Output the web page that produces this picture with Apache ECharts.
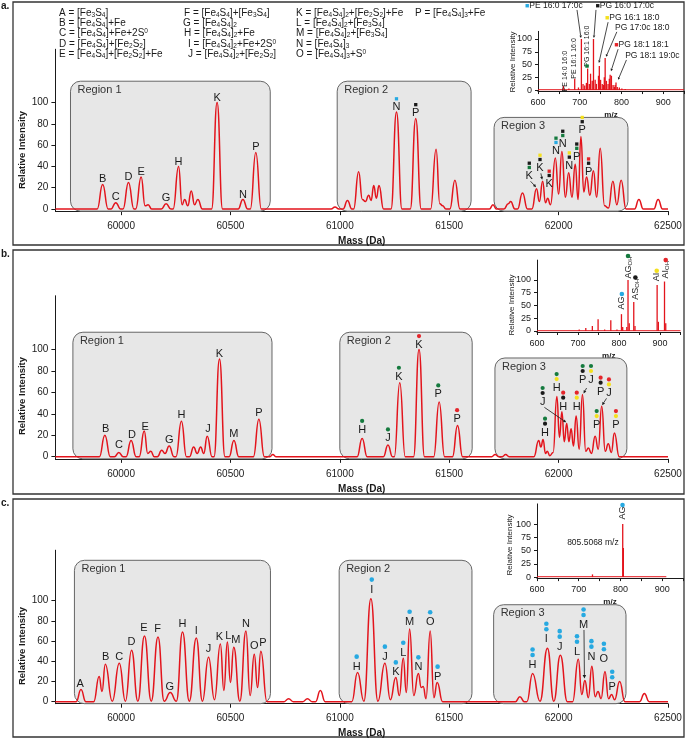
<!DOCTYPE html>
<html><head><meta charset="utf-8">
<script src="https://cdn.jsdelivr.net/npm/echarts@6/dist/echarts.min.js"></script>
<style>html,body{margin:0;padding:0;background:#fff}#chart{width:687px;height:739px}</style>
</head><body><div id="chart"></div><script>
// ---------------- data ----------------
const massTicks = [60000, 60500, 61000, 61500, 62000, 62500];
const intensityTicks = [0, 20, 40, 60, 80, 100];
const insetYTicks = [0, 25, 50, 75, 100];
const mzLabels = [600, 700, 800, 900];
const mzTicks = [600, 650, 700, 750, 800, 850, 900, 950];

const spectrumA = [[59700,0],
[59891,0],[59916,23],[59941,0],[59954,0],[59976,6],[59998,0],[60009,0],[60034,25],[60059,0],
[60067,0],[60092,30],[60110,3],[60124,4],[60140,0],[60184,0],[60206,5],[60228,0],
[60238,0],[60263,40],[60279,4],[60291,9],[60305,3],[60321,17],[60336,4],[60351,9],[60372,0],
[60414,0],[60439,100],[60464,0],[60535,0],[60557,9],[60579,0],[60591,0],[60616,53],[60641,0],
[60960,0],[60978,2],[60996,0],[61015,0],[61035,8],[61055,0],
[61063,0],[61086,35],[61103,9],[61117,7],[61132,13],[61143,8],[61155,22],[61167,10],[61179,22],[61200,0],
[61234,0],[61259,91],[61284,0],[61322,0],[61347,85],[61372,0],
[61415,0],[61440,56],[61457,5],[61470,3],[61485,0],[61503,0],[61526,27],[61549,0],
[61684,0],[61700,4],[61716,0],[61750,0],[61770,5],[61781,7],[61800,0],[61812,0],[61835,15],[61858,0],
[61878,0],[61899,19],[61912,7],[61927,26],[61940,6],[61950,10],[61963,4],[61985,48],[62000,14],[62015,54],
[62031,11],[62046,34],[62061,11],[62076,42],[62089,9],[62102,68],[62115,16],[62128,30],[62143,13],[62159,36],
[62174,11],[62190,57],[62210,3],[62228,1],[62248,26],[62266,4],[62286,27],[62308,0],
[62347,0],[62367,9],[62387,0],[62435,0],[62455,9],[62475,0],[62500,0]];

const spectrumB = [[59700,0],
[59901,0],[59926,20],[59951,0],[59970,0],[59990,4],[60010,0],[60023,0],[60046,15],[60069,0],
[60083,0],[60106,24],[60122,3],[60136,5],[60152,0],[60166,0],[60186,6],[60201,3],[60220,10],[60242,0],
[60251,0],[60276,33],[60299,0],[60313,0],[60332,9],[60348,3],[60364,9],[60378,3],[60394,19],[60416,0],
[60425,0],[60450,91],[60475,0],[60494,0],[60516,15],[60538,0],[60605,0],[60630,35],[60655,0],
[60680,0],[60694,2],[60708,0],
[61079,0],[61102,17],[61125,0],[61199,0],[61220,11],[61241,0],[61249,0],[61274,69],[61299,0],
[61337,0],[61362,100],[61387,0],[61429,0],[61454,51],[61479,0],[61515,0],[61538,29],[61561,0],
[61694,0],[61710,2],[61726,0],[61742,0],[61758,2],[61774,0],
[61887,0],[61909,15],[61919,9],[61929,16],[61940,3],[61948,5],[61960,1],[61975,4],[61992,56],[62004,18],
[62015,42],[62026,14],[62037,31],[62047,14],[62057,26],[62068,10],[62080,38],[62094,7],[62109,58],[62124,5],
[62136,8],[62150,3],[62167,19],[62181,7],[62197,47],[62213,5],[62227,12],[62241,4],[62255,22],[62277,0],
[62500,0]];

const spectrumC = [[59700,0],
[59795,0],[59817,12],[59839,0],[59875,0],[59900,25],[59913,10],[59928,37],[59960,0.5],[59992,38],[60020,0.5],
[60048,51],[60077,0.5],[60107,65],[60138,0.5],[60169,64],[60197,0.5],[60225,9],[60253,0.5],[60281,69],[60312,0.5],
[60344,63],[60372,0.5],[60400,44],[60427,2],[60454,57],[60470,11],[60486,59],[60500,19],[60515,54],[60543,0.5],
[60571,70],[60590,6],[60609,47],[60624,14],[60639,50],[60667,0],
[60745,0],[60766,3],[60787,0],[60831,0],[60852,3],[60873,0],[60889,0],[60911,11],[60933,0],
[61055,0],[61081,29],[61110,0.5],[61142,102],[61174,0.5],[61206,38],[61231,2],[61256,24],[61272,6],[61290,43],
[61304,9],[61319,72],[61338,6],[61359,28],[61372,14],[61381,15],[61394,3],[61413,70],[61430,4],[61445,19],[61470,0],
[61803,0],[61823,5],[61843,0],
[61855,0],[61881,28],[61915,0.5],[61949,53],[61978,0.5],[62008,46],[62040,0],[62064,0],[62090,42],[62106,7],
[62120,21],[62136,4],[62152,35],[62167,5],[62180,10],[62194,3],[62212,30],[62228,3],[62242,7],[62256,2],[62279,20],[62303,0],
[62370,0],[62392,8],[62414,0],[62500,0]];

// regions: [start mass, end mass, top intensity]
const regionNames = ['Region 1', 'Region 2', 'Region 3'];
const regionsA = [[59769,60682,120],[60988,61600,120],[61705,62317,86]];
const regionsB = [[59780,60690,116],[61000,61605,116],[61709,62312,92]];
const regionsC = [[59787,60683,140],[60997,61604,140],[61703,62308,96]];

// peak labels: [mass, intensity, text, marker colours top->bottom]
const labelsA = [
[59916,28,'B',''],[59976,11,'C',''],[60034,30,'D',''],[60092,35,'E',''],[60206,10,'G',''],[60263,44,'H',''],
[60439,104,'K',''],[60557,13,'N',''],[60616,58,'P',''],
[61259,95.5,'N','c'],[61347,90,'P','k'],
[61866,31,'K','kg'],[61915,38.5,'K','yk'],[61957,23.5,'K','rk'],[61988,54.5,'N','gc'],[62019,61,'N','kg'],
[62049,40.7,'N','yk'],[62083,49,'P','kg'],[62108,74,'P','yk'],[62137,35,'P','rk']];
const labelsB = [
[59930,25.5,'B',''],[59990,11,'C',''],[60050,20,'D',''],[60110,28,'E',''],[60220,16,'G',''],[60276,39,'H',''],
[60398,26,'J',''],[60450,96,'K',''],[60516,21,'M',''],[60630,41,'P',''],
[61102,25,'H','g'],[61220,17,'J','g'],[61270,74.5,'K','g'],[61362,104,'K','r'],[61450,58,'P','g'],[61536,35,'P','r'],
[61938,22.4,'H','gk'],[61927,51,'J','gk'],[61991,64,'H','gy'],[62021,46.6,'H','rk'],[62083,46.6,'H','ry'],
[62110,71.5,'P','gk'],[62148,71.5,'J','gy'],[62192,60.6,'P','rk'],[62230,59,'J','ry'],[62174,29.5,'P','gy'],[62262,29.5,'P','ry']];
const labelsC = [
[59813,18,'A',''],[59930,44.5,'B',''],[59992,44.5,'C',''],[60048,59.4,'D',''],[60105,72.7,'E',''],[60167,71.7,'F',''],
[60223,14.9,'G',''],[60281,76.6,'H',''],[60344,70.3,'I',''],[60400,51.9,'J',''],[60450,63.8,'K',''],[60490,65,'L',''],
[60525,61,'M',''],[60571,76.6,'N',''],[60609,55,'O',''],[60649,57.8,'P',''],
[61077,34.7,'H','c'],[61146,111,'I','c'],[61206,44.6,'J','c'],[61256,29,'K','c'],[61290,48.5,'L','c'],
[61319,79.2,'M','c'],[61359,34,'N','c'],[61413,78.6,'O','c'],[61447,24.8,'P','c'],
[61881,36.3,'H','cc'],[61944,61.8,'I','cc'],[62005,54.5,'J','cc'],[62084,49.5,'L','cc'],[62114,76,'M','cc'],
[62150,44.6,'N','cc'],[62207,42,'O','cc'],[62245,14.3,'P','cc']];

// arrows: [from mass, from intensity, to mass, to intensity]
const arrowsA = [[61872,26,61897,20.5],[61919,33.5,61925,27.5]];
const arrowsB = [[61935,46,62035,32],[62128,64,62114,59],[62219,54.4,62199,48]];
const arrowsC = [[62116,71,62118,23]];

// insets: [m/z, relative intensity]
const insetPeaksA = [[661,8],[674,3],[688,22],[697,5],[704,100],[708,12],[712,9],[716,14],[719,42],[723,12],[726,32],
[730,18],[733,100],[737,20],[740,12],[745,28],[747,47],[750,20],[754,12],[757,10],[759,25],[761,63],[764,18],[768,12],
[771,22],[773,30],[776,28],[780,10],[783,6],[785,10],[787,15],[790,6],[795,5],[801,3],[809,2]];
const insetPeaksB = [[703,3],[719,6],[735,10],[749,23],[765,3],[780,21],[795,3],[806,33],[809,8],[819,8],[822,100],
[825,15],[836,57],[839,10],[893,90],[896,18],[911,97],[914,15]];
const insetPeaksC = [[733,5],[805.5,100],[807,55]];
const insetBaseA = [[600,0.6],[950,0.6]];
const insetBaseB = [[600,0.6],[950,0.6]];
const insetBaseC = [[600,0.6],[910,0.6]];

// inset annotations
const insetTextA = [[638,165,'PE 16:0 17:0c','c'],[808,165,'PG 16:0 17:0c','k'],[826,141,'PG 16:1 18:0','y'],
[850,121.6,'PG 17:0c 18:0',''],[848,88,'PG 18:1 18:1','r'],[874,67,'PG 18:1 19:0c','']];
const insetLinesA = [[693.5,157,703,102],[739,157,734,102],[768,133,746,53],[789,114,763,65],[792,80,775,37],[812,59,792,20]];
const insetVertA = [[664.7,37,'PE 14:0 16:0'],[687,62,'PE 16:1 16:0'],[717.5,86,'PG 16:1 16:0']];
const insetSquaresA = [[717.5,47,'g']];
const insetVertB = [[807,55,'AG'],[822,124.5,'AG{s|OH}'],[840,82,'AS{s|OH}'],[892,106,'AI'],[914,120,'AI{s|OH}']];
const insetDotsB = [[807,72.5,'c'],[822,147,'g'],[840,105,'k'],[892,118,'y'],[914,139,'r']];
const insetVertC = [[805,121,'AG']];
const insetDotsC = [[805,136,'c']];
const insetNoteC = [[734,64,'805.5068 m/z']];

// legend of panel a
const legendCol1 = ['A = [Fe{s|3}S{s|4}]','B = [Fe{s|4}S{s|4}]+Fe','C = [Fe{s|4}S{s|4}]+Fe+2S{p|0}','D = [Fe{s|4}S{s|4}]+[Fe{s|2}S{s|2}]','E = [Fe{s|4}S{s|4}]+[Fe{s|2}S{s|2}]+Fe'];
const legendCol2 = ['F = [Fe{s|4}S{s|4}]+[Fe{s|3}S{s|4}]','G = [Fe{s|4}S{s|4}]{s|2}','H = [Fe{s|4}S{s|4}]{s|2}+Fe','I = [Fe{s|4}S{s|4}]{s|2}+Fe+2S{p|0}','J = [Fe{s|4}S{s|4}]{s|2}+[Fe{s|2}S{s|2}]'];
const legendCol3 = ['K = [Fe{s|4}S{s|4}]{s|2}+[Fe{s|2}S{s|2}]+Fe','L = [Fe{s|4}S{s|4}]{s|2}+[Fe{s|3}S{s|4}]','M = [Fe{s|4}S{s|4}]{s|2}+[Fe{s|3}S{s|4}]','N = [Fe{s|4}S{s|4}]{s|3}','O = [Fe{s|4}S{s|4}]{s|3}+S{p|0}'];
const legendCol4 = ['P = [Fe{s|4}S{s|4}]{s|3}+Fe'];

// ---------------- style ----------------
const FONT = "'Liberation Sans', Arial, Helvetica, sans-serif";
const RED = '#e3141c';
const INK = '#1a1a1a';
const COLORS = {c:'#27a9e1', k:'#1a1a1a', g:'#157a3e', y:'#f4e01e', r:'#e4252b'};
const RICH = {
  s:{fontSize:6.5, lineHeight:6, verticalAlign:'bottom', fontFamily:FONT, fill:INK},
  p:{fontSize:6.5, lineHeight:6, verticalAlign:'top', fontFamily:FONT, fill:INK}
};

const chart = echarts.init(document.getElementById('chart'), null, {renderer:'canvas'});

const grids = [
  {left:55.4, top:49.25, width:612.6, height:161.9},
  {left:55.4, top:295.75, width:612.6, height:163.1},
  {left:55.4, top:550.2, width:612.6, height:153.5},
  {left:538, top:31.35, width:146, height:59.7},
  {left:537, top:260.1, width:143.5, height:71.9},
  {left:537, top:503.9, width:146, height:74.2}
].map(g => Object.assign({outerBoundsMode:'none', containLabel:false, show:false}, g));

const axisLine = {show:true, onZero:false, lineStyle:{color:INK, width:1}};
function mainX(i){
  return {type:'value', gridIndex:i, min:59700, max:62500, axisLine,
    axisTick:{show:true, length:4, customValues:massTicks, lineStyle:{color:INK}},
    axisLabel:{customValues:massTicks, formatter:v=>String(v), fontSize:10, color:INK, margin:10, fontFamily:FONT},
    splitLine:{show:false}, name:'Mass (Da)', nameLocation:'middle', nameGap:25,
    nameTextStyle:{fontWeight:'bold', fontSize:10, color:INK, fontFamily:FONT}};
}
function mainY(i){
  return {type:'value', gridIndex:i, min:-2, max:150, axisLine,
    axisTick:{show:true, length:4, customValues:intensityTicks, lineStyle:{color:INK}},
    axisLabel:{customValues:intensityTicks, formatter:v=>String(v), fontSize:10, color:INK, margin:7, fontFamily:FONT},
    splitLine:{show:false}};
}
function insetX(i){
  return {type:'value', gridIndex:i, min:600, max:950, axisLine,
    axisTick:{show:true, length:3, customValues:mzTicks, lineStyle:{color:INK}},
    axisLabel:{customValues:mzLabels, formatter:v=>String(v), fontSize:9, color:INK, margin:7, fontFamily:FONT},
    splitLine:{show:false}, name:'m/z', nameLocation:'middle', nameGap:20,
    nameTextStyle:{fontWeight:'bold', fontSize:8, color:INK, fontFamily:FONT}};
}
function insetY(i, max){
  return {type:'value', gridIndex:i, min:-2, max:max, axisLine,
    axisTick:{show:true, length:3, customValues:insetYTicks, lineStyle:{color:INK}},
    axisLabel:{customValues:insetYTicks, formatter:v=>String(v), fontSize:9, color:INK, margin:6, fontFamily:FONT},
    splitLine:{show:false}};
}

function regionSeries(ax, regions){
  return {type:'custom', xAxisIndex:ax, yAxisIndex:ax, clip:false, silent:true, z:1,
    encode:{x:[0,1], y:2}, data:regions,
    renderItem:(params, api)=>{
      const p0 = api.coord([api.value(0), api.value(2)]);
      const p1 = api.coord([api.value(1), -2]);
      return {type:'group', children:[
        {type:'rect', shape:{x:p0[0], y:p0[1], width:p1[0]-p0[0], height:p1[1]-p0[1], r:10},
          style:{fill:'#e7e7e7', stroke:'#666', lineWidth:1}},
        {type:'text', x:p0[0]+7, y:p0[1]+3, style:{text:regionNames[params.dataIndex], fontSize:11,
          fontFamily:FONT, fill:'#333', align:'left', verticalAlign:'top'}}
      ]};
    }};
}
function spectrumSeries(ax, data){
  return {type:'line', xAxisIndex:ax, yAxisIndex:ax, data, symbol:'none', showSymbol:false,
    smooth:0.5, smoothMonotone:'x', silent:true, z:3, animation:false,
    lineStyle:{color:RED, width:1.5}};
}
function labelSeries(ax, labels, mk){
  return {type:'custom', xAxisIndex:ax, yAxisIndex:ax, clip:false, silent:true, z:6,
    data:labels.map(l=>[l[0], l[1]]),
    renderItem:(params, api)=>{
      const l = labels[params.dataIndex];
      const p = api.coord([api.value(0), api.value(1)]);
      const ch = [{type:'text', x:p[0], y:p[1], style:{text:l[2], fontSize:11, fontFamily:FONT, fill:INK,
        align:'center', verticalAlign:'middle'}}];
      const m = l[3].split('');
      const n = m.length;
      m.forEach((c, i)=>{
        const cy = p[1] - mk.first - (n-1-i)*mk.gap;
        if (mk.type === 'square') ch.push({type:'rect', shape:{x:p[0]-mk.size/2, y:cy-mk.size/2, width:mk.size, height:mk.size}, style:{fill:COLORS[c]}});
        else ch.push({type:'circle', shape:{cx:p[0], cy:cy, r:mk.size/2}, style:{fill:COLORS[c]}});
      });
      return {type:'group', children:ch};
    }};
}
function arrowSeries(ax, arrows, head){
  return {type:'custom', xAxisIndex:ax, yAxisIndex:ax, clip:false, silent:true, z:6,
    encode:{x:[0,2], y:[1,3]}, data:arrows,
    renderItem:(params, api)=>{
      const a = api.coord([api.value(0), api.value(1)]);
      const b = api.coord([api.value(2), api.value(3)]);
      const dx = b[0]-a[0], dy = b[1]-a[1];
      const len = Math.sqrt(dx*dx+dy*dy) || 1;
      const ux = dx/len, uy = dy/len;
      const hl = head, hw = head*0.5;
      const bx = b[0]-ux*hl, by = b[1]-uy*hl;
      return {type:'group', children:[
        {type:'line', shape:{x1:a[0], y1:a[1], x2:bx, y2:by}, style:{stroke:INK, lineWidth:0.8}},
        {type:'polygon', shape:{points:[[b[0],b[1]],[bx-uy*hw, by+ux*hw],[bx+uy*hw, by-ux*hw]]}, style:{fill:INK}}
      ]};
    }};
}
function insetBars(ax, data){
  return {type:'bar', xAxisIndex:ax, yAxisIndex:ax, data, barWidth:1.3, silent:true, z:3,
    itemStyle:{color:RED}, animation:false};
}
function insetBase(ax, data){
  return {type:'line', xAxisIndex:ax, yAxisIndex:ax, data, symbol:'none', silent:true, z:2,
    lineStyle:{color:RED, width:1.2, opacity:0.8}};
}
function insetTextSeries(ax, items, opts){
  return {type:'custom', xAxisIndex:ax, yAxisIndex:ax, clip:false, silent:true, z:7,
    data:items.map(t=>[t[0], t[1]]),
    renderItem:(params, api)=>{
      const t = items[params.dataIndex];
      const p = api.coord([api.value(0), api.value(1)]);
      let txt = t[2];
      const rich = {s:{fontSize:6, lineHeight:6, verticalAlign:'bottom', fontFamily:FONT, fill:INK}};
      if (opts.marker && t[3]) { txt = '{m|■}' + txt; rich.m = {fontSize:7, fill:COLORS[t[3]], fontFamily:FONT, lineHeight:10}; }
      return {type:'text', x:p[0], y:p[1], rotation:opts.rotate ? Math.PI/2 : 0,
        style:{text:txt, rich, fontSize:opts.size, lineHeight:10, fontFamily:FONT, fill:INK, align:'center', verticalAlign:'middle'}};
    }};
}
function insetMarkSeries(ax, items, shape){
  return {type:'custom', xAxisIndex:ax, yAxisIndex:ax, clip:false, silent:true, z:7,
    data:items.map(t=>[t[0], t[1]]),
    renderItem:(params, api)=>{
      const t = items[params.dataIndex];
      const p = api.coord([api.value(0), api.value(1)]);
      if (shape === 'square') return {type:'rect', shape:{x:p[0]-1.7, y:p[1]-1.7, width:3.4, height:3.4}, style:{fill:COLORS[t[2]]}};
      return {type:'circle', shape:{cx:p[0], cy:p[1], r:2.3}, style:{fill:COLORS[t[2]]}};
    }};
}

const SQ = {type:'square', size:3.3, first:8.5, gap:4.3};
const DOT_B = {type:'circle', size:4.2, first:9, gap:5};
const DOT_C = {type:'circle', size:4.6, first:10, gap:5.5};

// graphic: frames, panel letters, legend, axis names
const graphic = [];
[[13,2,671,243],[13,250,671,244],[13,499,671,238]].forEach(r=>{
  graphic.push({type:'rect', shape:{x:r[0], y:r[1], width:r[2], height:r[3]}, style:{fill:'none', stroke:'#333', lineWidth:1.3}, z:0});
});
[['a.',1,1],['b.',1,249],['c.',1,498]].forEach(t=>{
  graphic.push({type:'text', x:t[1], y:t[2], style:{text:t[0], fontSize:10, fontWeight:'bold', fontFamily:FONT, fill:INK}});
});
const legendRowsY = [13, 23.3, 33.6, 44, 54.3];
function addLegend(col, xs){
  col.forEach((s, i)=>{
    graphic.push({type:'text', x:xs[i], y:legendRowsY[i], z:10,
      style:{text:s, rich:RICH, fontSize:10, lineHeight:11, fontFamily:FONT, fill:INK, align:'left', verticalAlign:'middle'}});
  });
}
addLegend(legendCol1, [59,59,59,59,59]);
addLegend(legendCol2, [184,183,184,188,188]);
addLegend(legendCol3, [296,296,296,296,296]);
addLegend(legendCol4, [415]);
[[22,150],[22,396],[22,646]].forEach(p=>{
  graphic.push({type:'text', x:p[0], y:p[1], rotation:Math.PI/2,
    style:{text:'Relative Intensity', fontSize:9.5, fontWeight:'bold', fontFamily:FONT, fill:INK, align:'center', verticalAlign:'middle'}});
});
[[513,62],[512,305],[510,545]].forEach(p=>{
  graphic.push({type:'text', x:p[0], y:p[1], rotation:Math.PI/2,
    style:{text:'Relative Intensity', fontSize:8, fontFamily:FONT, fill:'#222', align:'center', verticalAlign:'middle'}});
});

const option = {
  animation:false,
  backgroundColor:'#ffffff',
  textStyle:{fontFamily:FONT},
  grid:grids,
  xAxis:[mainX(0), mainX(1), mainX(2), insetX(3), insetX(4), insetX(5)],
  yAxis:[mainY(0), mainY(1), mainY(2), insetY(3,115), insetY(4,139), insetY(5,138)],
  graphic:graphic,
  series:[
    regionSeries(0, regionsA), regionSeries(1, regionsB), regionSeries(2, regionsC),
    spectrumSeries(0, spectrumA), spectrumSeries(1, spectrumB), spectrumSeries(2, spectrumC),
    labelSeries(0, labelsA, SQ), labelSeries(1, labelsB, DOT_B), labelSeries(2, labelsC, DOT_C),
    arrowSeries(0, arrowsA, 3), arrowSeries(1, arrowsB, 3), arrowSeries(2, arrowsC, 3.5),
    insetBase(3, insetBaseA), insetBase(4, insetBaseB), insetBase(5, insetBaseC),
    insetBars(3, insetPeaksA), insetBars(4, insetPeaksB), insetBars(5, insetPeaksC),
    insetTextSeries(3, insetTextA, {marker:true, size:8.5}),
    arrowSeries(3, insetLinesA, 2.5),
    insetTextSeries(3, insetVertA, {rotate:true, size:7}),
    insetMarkSeries(3, insetSquaresA, 'square'),
    insetTextSeries(4, insetVertB, {rotate:true, size:9}),
    insetMarkSeries(4, insetDotsB, 'circle'),
    insetTextSeries(5, insetVertC, {rotate:true, size:9}),
    insetMarkSeries(5, insetDotsC, 'circle'),
    insetTextSeries(5, insetNoteC, {size:8.5})
  ]
};
chart.setOption(option);
</script></body></html>
